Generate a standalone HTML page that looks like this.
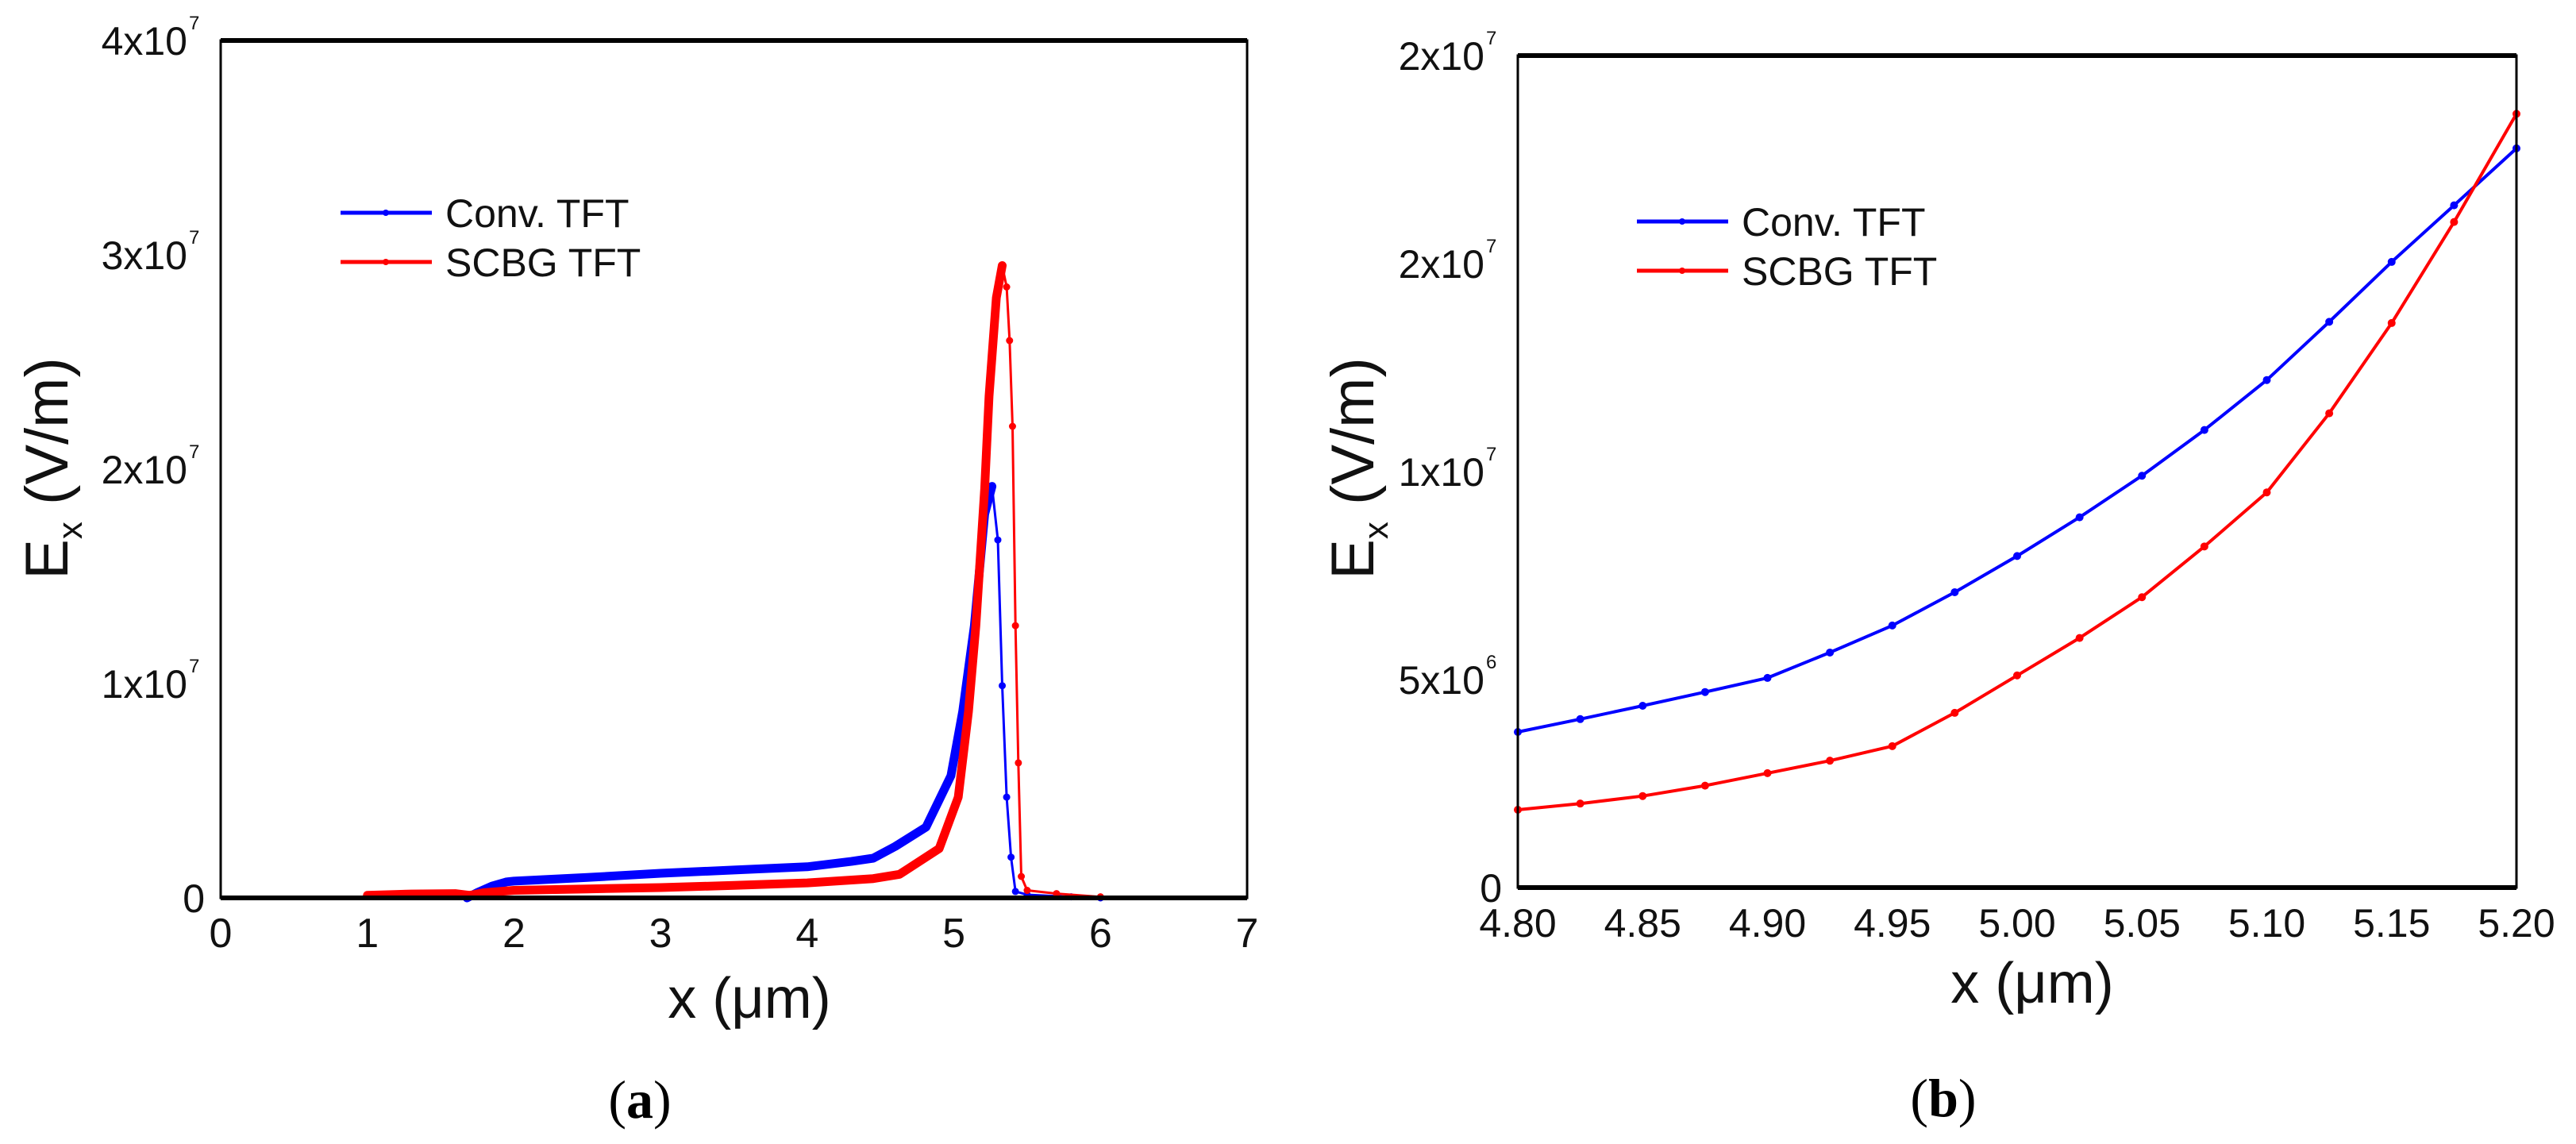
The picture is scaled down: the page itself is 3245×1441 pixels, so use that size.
<!DOCTYPE html>
<html><head><meta charset="utf-8">
<style>
html,body{margin:0;padding:0;background:#fff;}
svg{display:block;font-family:"Liberation Sans",Arial,sans-serif;}
</style></head>
<body>
<svg id="fig" width="3245" height="1441" viewBox="0 0 3245 1441" xmlns="http://www.w3.org/2000/svg"></svg>
<script>
// ---- Panel (a) data (x in um, Ex in 1e6 V/m) ----
const aConvX = [1.68,1.75,1.85,1.95,2.0,2.5,3.0,3.5,4.0,4.3,4.45,4.6,4.81,4.98,5.06,5.14,5.21,5.26,5.30,5.33,5.36,5.39,5.42,5.5,5.8,6.0];
const aConvY = [0,0.25,0.55,0.75,0.78,0.95,1.15,1.3,1.45,1.7,1.85,2.4,3.3,5.7,8.7,12.7,17.9,19.2,16.7,9.9,4.7,1.9,0.3,0.15,0.05,0];
const aScbgX = [1.0,1.3,1.6,1.7,1.8,2.0,2.5,3.0,3.5,4.0,4.45,4.63,4.9,5.03,5.10,5.15,5.21,5.24,5.29,5.33,5.36,5.38,5.40,5.42,5.44,5.46,5.5,5.7,6.0];
const aScbgY = [0.12,0.18,0.2,0.12,0.25,0.35,0.42,0.48,0.58,0.7,0.9,1.1,2.3,4.7,8.7,12.7,19.1,23.4,28,29.5,28.5,26,22,12.7,6.3,1.0,0.35,0.2,0.05];
const aXTicks = ["0","1","2","3","4","5","6","7"];
const aYTicks = [["0",""],["1x10","7"],["2x10","7"],["3x10","7"],["4x10","7"]];

// ---- Panel (b) data ----
const bX    = [4.800,4.825,4.850,4.875,4.900,4.925,4.950,4.975,5.000,5.025,5.050,5.075,5.100,5.125,5.150,5.175,5.200];
const bConv = [3.74,4.05,4.37,4.70,5.04,5.65,6.30,7.10,7.97,8.90,9.90,11.0,12.2,13.6,15.04,16.4,17.77];
const bScbg = [1.87,2.02,2.20,2.45,2.75,3.05,3.40,4.20,5.10,6.00,6.98,8.2,9.5,11.4,13.57,16.0,18.6];
const bXTicks = ["4.80","4.85","4.90","4.95","5.00","5.05","5.10","5.15","5.20"];
const bYTicks = [["0",""],["5x10","6"],["1x10","7"],["2x10","7"],["2x10","7"]];

const NS="http://www.w3.org/2000/svg";
const svg=document.getElementById('fig');
function mk(tag,attrs,parent){const e=document.createElementNS(NS,tag);for(const k in attrs)e.setAttribute(k,attrs[k]);(parent||svg).appendChild(e);return e;}

function panel(o){
  const g=mk('g',{});
  
  
  const sx=v=>o.L+(v-o.x0)/(o.x1-o.x0)*(o.R-o.L);
  const sy=v=>o.B-(v-o.y0)/(o.y1-o.y0)*(o.B-o.T);
  o.series.forEach(s=>{
    const sg=mk('g',{},g);
    
    
    const pts=s.x.map((x,i)=>sx(x).toFixed(1)+','+sy(s.y[i]).toFixed(1));
    if(o.thick){
      // dense-marker band: up to the peak of the series
      let pk=0;s.y.forEach((v,i)=>{if(v>s.y[pk])pk=i;});
      const low=pts.slice(0,pk+1);
      const u=mk('polyline',{points:low.join(' '),fill:'none',stroke:s.color,'stroke-width':o.thick,'stroke-linejoin':'round','stroke-linecap':'round'},sg);
      
      
    }
    const l=mk('polyline',{points:pts.join(' '),fill:'none',stroke:s.color,'stroke-width':o.lw,'stroke-linejoin':'round'},sg);
    
    
    s.x.forEach((x,i)=>{
      const c=mk('circle',{cx:sx(x),cy:sy(s.y[i]),r:o.mr,fill:s.color},sg);
      
      
    });
  });
  const f=mk('rect',{x:o.L,y:o.T,width:o.R-o.L,height:o.B-o.T,fill:'none',stroke:'#000','stroke-width':3},g);
  
  
  mk('line',{x1:o.L,y1:o.T,x2:o.R,y2:o.T,stroke:'#000','stroke-width':6},g);
  mk('line',{x1:o.L,y1:o.B,x2:o.R,y2:o.B,stroke:'#000','stroke-width':6},g);
  o.xt.forEach((t,i)=>{
    const x=o.L+i/(o.xt.length-1)*(o.R-o.L);
    const tx=mk('text',{x:x,y:o.B+62,'font-size':o.xfs,'text-anchor':'middle',fill:'#111'},g);
    tx.textContent=t;
    
    
  });
  o.yt.forEach((t,i)=>{
    const y=o.B-i/(o.yt.length-1)*(o.B-o.T);
    const tx=mk('text',{x:o.L-(t[1]?42:20),y:y+18,'font-size':50,'text-anchor':'end',fill:'#111'},g);
    tx.textContent=t[0];
    
    
    if(t[1]){const s=mk('text',{x:o.L-40,y:y-14,'font-size':24,'text-anchor':'start',fill:'#111'},g);s.textContent=t[1];
      
      }
  });
  const xt=mk('text',{x:o.xtx,y:o.xty,'font-size':72,'text-anchor':'middle',fill:'#111'},g);
  xt.textContent='x (\u03bcm)';
  
  
  const yt=mk('text',{transform:`translate(${o.ytx},${o.yty}) rotate(-90)`,'font-size':76,'text-anchor':'middle',fill:'#111'},g);
  yt.innerHTML='E<tspan font-size="44" dy="18">x</tspan><tspan dy="-18"> (V/m)</tspan>';
  
  
  const lg=mk('g',{},g);
  
  
  o.series.forEach((s,i)=>{
    const y=o.legY+i*62;
    const e=mk('g',{},lg);
    
    
    mk('line',{x1:o.legX,y1:y,x2:o.legX+115,y2:y,stroke:s.color,'stroke-width':5},e);
    mk('circle',{cx:o.legX+57,cy:y,r:4,fill:s.color},e);
    const t=mk('text',{x:o.legX+132,y:y+18,'font-size':50,fill:'#111'},e);
    t.textContent=s.label;
  });
  const cap=mk('text',{x:o.capX,y:o.capY,'font-size':68,'text-anchor':'middle','font-family':'"Liberation Serif",serif',fill:'#000'},g);
  cap.innerHTML='(<tspan font-weight="bold">'+o.cap+'</tspan>)';
  
  
}

panel({name:'panel-a',L:278,R:1571,T:51,B:1131,x0:0,x1:7,y0:0,y1:40,lw:3,mr:4.5,thick:11,
  xt:aXTicks,yt:aYTicks,xfs:52,xtx:944,xty:1282,ytx:85,yty:590,legX:429,legY:268,capX:806,capY:1408,cap:'a',
  series:[{name:'series-conv-tft',label:'Conv. TFT',color:'#0000ff',x:aConvX,y:aConvY},
          {name:'series-scbg-tft',label:'SCBG TFT',color:'#ff0000',x:aScbgX,y:aScbgY}]});

panel({name:'panel-b',L:1912,R:3170,T:70,B:1118,x0:4.8,x1:5.2,y0:0,y1:20,lw:4,mr:5,thick:0,
  xt:bXTicks,yt:bYTicks,xfs:50,xtx:2560,xty:1263,ytx:1730,yty:590,legX:2062,legY:279,capX:2448,capY:1406,cap:'b',
  series:[{name:'series-conv-tft',label:'Conv. TFT',color:'#0000ff',x:bX,y:bConv},
          {name:'series-scbg-tft',label:'SCBG TFT',color:'#ff0000',x:bX,y:bScbg}]});
</script>
</body></html>
